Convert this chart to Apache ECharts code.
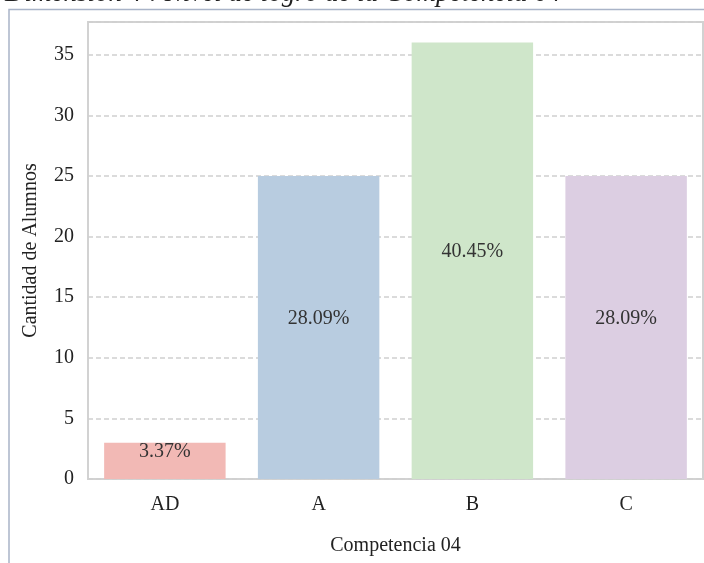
<!DOCTYPE html>
<html>
<head>
<meta charset="utf-8">
<script src="https://cdn.jsdelivr.net/npm/echarts@6/dist/echarts.min.js"></script>
<style>
html,body{margin:0;padding:0;background:#fff;}
#chart{width:704px;height:563px;}
</style>
</head>
<body>
<div id="chart"></div>
<script>
const categories = ['AD', 'A', 'B', 'C'];
const counts = [3, 25, 36, 25];
const barColors = ['#f2b9b5', '#b8cce0', '#cfe6ca', '#dccee2'];
const yTicks = [0, 5, 10, 15, 20, 25, 30, 35];
const titleText = 'Dimensión 4 : Nivel de logro de la Competencia 04';
const xName = 'Competencia 04';
const yName = 'Cantidad de Alumnos';

const total = counts.reduce((a, b) => a + b, 0);
const serif = '"Liberation Serif", "DejaVu Serif", serif';

const chart = echarts.init(document.getElementById('chart'));
chart.setOption({
  backgroundColor: '#fff',
  animation: false,
  graphic: [
    {
      type: 'rect', z: 0,
      shape: { x: 9, y: 9.5, width: 760, height: 640 },
      style: { fill: 'none', stroke: '#a9b4c8', lineWidth: 1.5 }
    },
    {
      type: 'text', z: 1,
      style: {
        text: titleText, x: 5, y: 7.5,
        font: 'italic 27px ' + serif, fill: '#222',
        verticalAlign: 'bottom', align: 'left'
      }
    }
  ],
  grid: {
    left: 88, top: 22, width: 615, height: 457,
    show: true, borderColor: '#d2d2d2', borderWidth: 2, backgroundColor: 'transparent'
  },
  xAxis: {
    type: 'category',
    data: categories,
    name: xName,
    nameLocation: 'middle',
    nameGap: 57,
    nameTextStyle: { fontFamily: serif, fontSize: 20, color: '#222' },
    axisLine: { show: false },
    axisTick: { show: false },
    axisLabel: { fontFamily: serif, fontSize: 20, color: '#222', margin: 16 }
  },
  yAxis: {
    type: 'value',
    min: 0, max: 37.7, interval: 5,
    name: yName,
    nameLocation: 'middle',
    nameGap: 47,
    nameTextStyle: { fontFamily: serif, fontSize: 20, color: '#222' },
    axisLine: { show: false },
    axisTick: { show: false },
    axisLabel: {
      fontFamily: serif, fontSize: 20, color: '#222', margin: 14,
      formatter: v => (yTicks.indexOf(v) >= 0 ? String(v) : '')
    },
    splitLine: { show: true, lineStyle: { color: '#cfcfcf', width: 1.5, type: [5, 3] } }
  },
  series: [{
    type: 'bar',
    barWidth: '79%',
    data: counts.map((v, i) => ({ value: v, itemStyle: { color: barColors[i] } })),
    label: {
      show: true,
      position: 'inside',
      offset: [0, -9],
      fontFamily: serif, fontSize: 20, color: '#333',
      formatter: p => (p.value / total * 100).toFixed(2) + '%'
    },
    z: 3
  }]
});
</script>
</body>
</html>
